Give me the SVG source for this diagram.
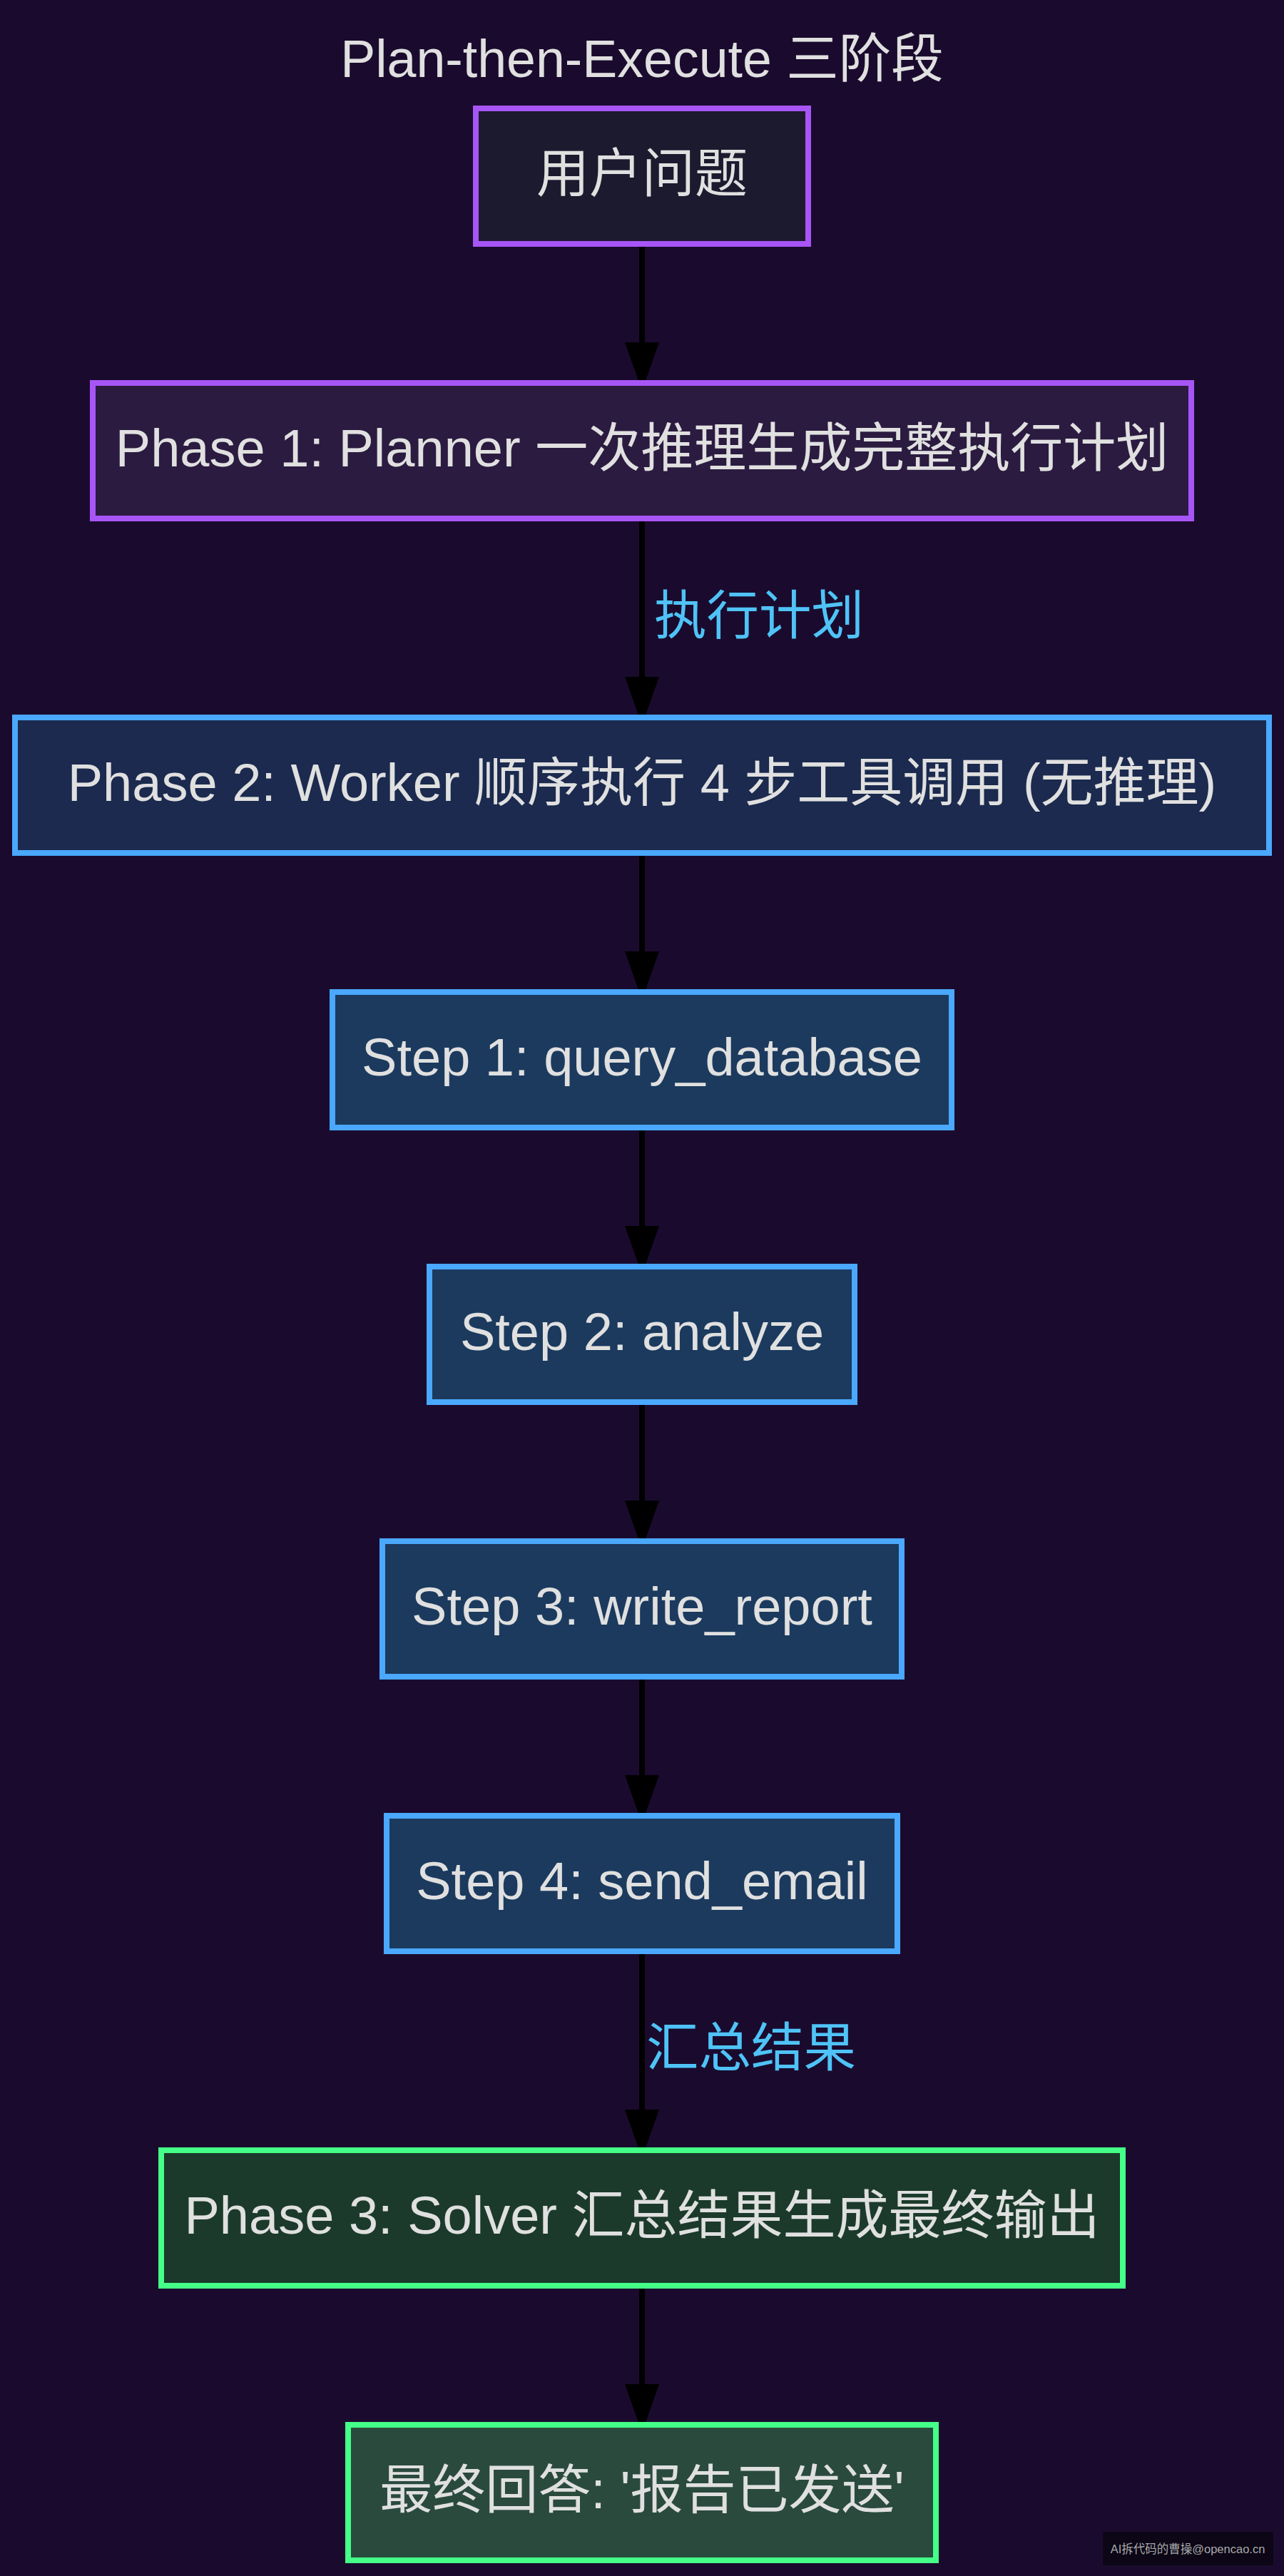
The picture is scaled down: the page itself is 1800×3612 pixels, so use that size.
<svg xmlns="http://www.w3.org/2000/svg" width="1800" height="3612" viewBox="0 0 1800 3612">
  <defs>
    <style>
      .t { font-family: "Liberation Sans", "Noto Sans CJK SC", sans-serif; font-size: 74px; fill: #e0e0e0; text-anchor: middle; }
      .title { font-size: 73.5px; }
      .lbl { font-family: "Liberation Sans", "Noto Sans CJK SC", sans-serif; font-size: 73.5px; fill: #4fc3f7; text-anchor: start; }
      .box { stroke-width: 8; }
      .purple { stroke: #a855f7; }
      .blue { stroke: #4aa8ff; }
      .green { stroke: #44ff88; }
      .edge { stroke: #000000; stroke-width: 8; fill: none; marker-end: url(#arrow); }
      .wm { font-family: "Liberation Sans", "Noto Sans CJK SC", sans-serif; font-size: 16.5px; fill: #a8a8a8; text-anchor: middle; }
    </style>
    <marker id="arrow" markerUnits="userSpaceOnUse" markerWidth="68" markerHeight="48" refX="0" refY="24" orient="auto" overflow="visible">
      <path d="M0,0 L68,24 L0,48 Z" fill="#000000"/>
    </marker>
  </defs>
  <rect x="0" y="0" width="1800" height="3612" fill="#1a0b2e"/>
  <text class="t title" x="900" y="108">Plan-then-Execute 三阶段</text>

  <g id="connectors">
    <line class="edge" x1="900" y1="342" x2="900" y2="480"/>
    <line class="edge" x1="900" y1="727" x2="900" y2="949"/>
    <line class="edge" x1="900" y1="1196" x2="900" y2="1334"/>
    <line class="edge" x1="900" y1="1581" x2="900" y2="1719"/>
    <line class="edge" x1="900" y1="1966" x2="900" y2="2104"/>
    <line class="edge" x1="900" y1="2351" x2="900" y2="2489"/>
    <line class="edge" x1="900" y1="2736" x2="900" y2="2958"/>
    <line class="edge" x1="900" y1="3205" x2="900" y2="3343"/>
    <text class="lbl" x="917" y="889">执行计划</text>
    <text class="lbl" x="906" y="2897">汇总结果</text>
  </g>

  <g id="node-question">
    <rect class="box purple" x="667" y="152" width="466" height="190" fill="#1b1a2e"/>
    <text class="t" x="900" y="269">用户问题</text>
  </g>
  <g id="node-phase1">
    <rect class="box purple" x="130" y="537" width="1540" height="190" fill="#2b1b40"/>
    <text class="t" x="900" y="654">Phase 1: Planner 一次推理生成完整执行计划</text>
  </g>
  <g id="node-phase2">
    <rect class="box blue" x="21" y="1006" width="1758" height="190" fill="#1b2a4e"/>
    <text class="t" x="900" y="1123">Phase 2: Worker 顺序执行 4 步工具调用 (无推理)</text>
  </g>
  <g id="node-step1">
    <rect class="box blue" x="466" y="1391" width="868" height="190" fill="#1b3a5e"/>
    <text class="t" x="900" y="1508">Step 1: query_database</text>
  </g>
  <g id="node-step2">
    <rect class="box blue" x="602" y="1776" width="596" height="190" fill="#1b3a5e"/>
    <text class="t" x="900" y="1893">Step 2: analyze</text>
  </g>
  <g id="node-step3">
    <rect class="box blue" x="536" y="2161" width="728" height="190" fill="#1b3a5e"/>
    <text class="t" x="900" y="2278">Step 3: write_report</text>
  </g>
  <g id="node-step4">
    <rect class="box blue" x="542" y="2546" width="716" height="190" fill="#1b3a5e"/>
    <text class="t" x="900" y="2663">Step 4: send_email</text>
  </g>
  <g id="node-phase3">
    <rect class="box green" x="226" y="3015" width="1348" height="190" fill="#1b3a2b"/>
    <text class="t" x="900" y="3132">Phase 3: Solver 汇总结果生成最终输出</text>
  </g>
  <g id="node-final">
    <rect class="box green" x="488" y="3400" width="824" height="190" fill="#2a4a3e"/>
    <text class="t" x="900" y="3517">最终回答: '报告已发送'</text>
  </g>

  <g id="watermark">
    <rect x="1546" y="3550" width="239" height="47" fill="#0c0617"/>
    <text class="wm" x="1665" y="3580">AI拆代码的曹操@opencao.cn</text>
  </g>
</svg>
